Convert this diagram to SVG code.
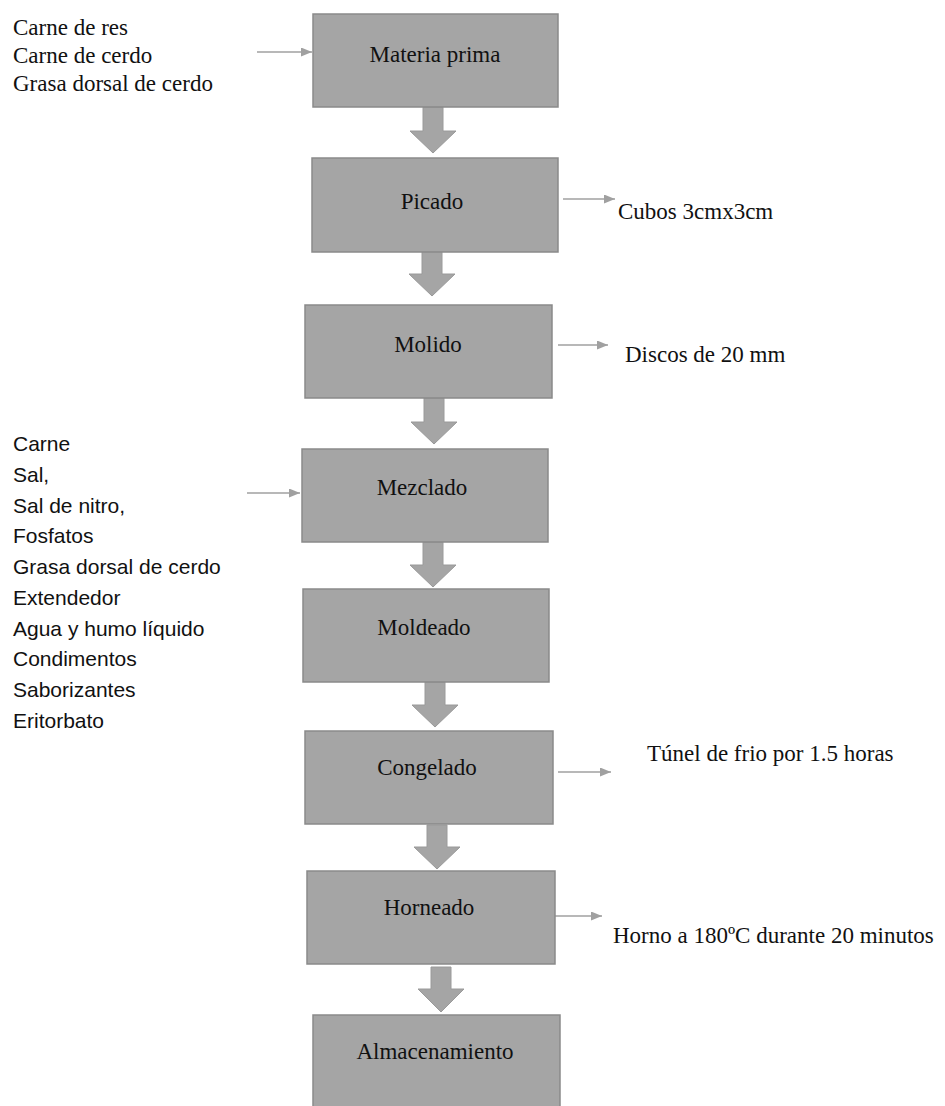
<svg xmlns="http://www.w3.org/2000/svg" width="945" height="1106" viewBox="0 0 945 1106">
<defs>
<style>
.box{fill:#a5a5a5;stroke:#8a8a8a;stroke-width:1.5}
.barrow{fill:#a5a5a5;stroke:#9a9a9a;stroke-width:1}
.conn{stroke:#a0a0a0;stroke-width:1.5;fill:none;marker-end:url(#ah)}
.lbl{font-family:"Liberation Serif","Times New Roman",serif;font-size:23px;fill:#111;text-anchor:middle}
.side{font-family:"Liberation Serif","Times New Roman",serif;font-size:23px;fill:#111}
.list{font-family:"Liberation Sans",Arial,sans-serif;font-size:21px;fill:#111}
</style>
<marker id="ah" markerUnits="userSpaceOnUse" markerWidth="11" markerHeight="9" refX="11" refY="4.5" orient="auto">
<path d="M0,0 L11,4.5 L0,9 Z" fill="#a0a0a0"/>
</marker>
</defs>
<rect width="945" height="1106" fill="#ffffff"/>

<g id="connectors">
<line class="conn" x1="257" y1="52" x2="312" y2="52"/>
<line class="conn" x1="563" y1="199" x2="615" y2="199"/>
<line class="conn" x1="558" y1="345" x2="608" y2="345"/>
<line class="conn" x1="247" y1="493" x2="300" y2="493"/>
<line class="conn" x1="558" y1="772" x2="611" y2="772"/>
<line class="conn" x1="555" y1="916" x2="602" y2="916"/>
<path class="barrow" d="M423,107 H443 V131 H456 L433,153 L410,131 H423 Z"/>
<path class="barrow" d="M422,251 H442 V274 H455 L432,296 L409,274 H422 Z"/>
<path class="barrow" d="M424,398 H444 V422 H457 L434,444 L411,422 H424 Z"/>
<path class="barrow" d="M423,542 H443 V565 H456 L433,587 L410,565 H423 Z"/>
<path class="barrow" d="M425,682 H445 V705 H458 L435,727 L412,705 H425 Z"/>
<path class="barrow" d="M427,825 H447 V847 H460 L437,869 L414,847 H427 Z"/>
<path class="barrow" d="M431,967 H451 V989 H464 L441,1012 L418,989 H431 Z"/>
</g>

<g id="inputs-top">
<text class="side" x="13" y="35">Carne de res</text>
<text class="side" x="13" y="63">Carne de cerdo</text>
<text class="side" x="13" y="91">Grasa dorsal de cerdo</text>
</g>

<g id="node-materia">
<rect class="box" x="313" y="14" width="245" height="93"/>
<text class="lbl" x="435" y="62">Materia prima</text>
</g>

<g id="node-picado">
<rect class="box" x="312" y="158" width="246" height="94"/>
<text class="lbl" x="432" y="209">Picado</text>
</g>
<g id="out-picado"><text class="side" x="618" y="219">Cubos 3cmx3cm</text></g>

<g id="node-molido">
<rect class="box" x="305" y="305" width="247" height="93"/>
<text class="lbl" x="428" y="352">Molido</text>
</g>
<g id="out-molido"><text class="side" x="625" y="362">Discos de 20 mm</text></g>

<g id="inputs-mezclado">
<text class="list" x="13" y="451">Carne</text>
<text class="list" x="13" y="482">Sal,</text>
<text class="list" x="13" y="513">Sal de nitro,</text>
<text class="list" x="13" y="543">Fosfatos</text>
<text class="list" x="13" y="574">Grasa dorsal de cerdo</text>
<text class="list" x="13" y="605">Extendedor</text>
<text class="list" x="13" y="636">Agua y humo líquido</text>
<text class="list" x="13" y="666">Condimentos</text>
<text class="list" x="13" y="697">Saborizantes</text>
<text class="list" x="13" y="728">Eritorbato</text>
</g>

<g id="node-mezclado">
<rect class="box" x="302" y="449" width="246" height="93"/>
<text class="lbl" x="422" y="495">Mezclado</text>
</g>

<g id="node-moldeado">
<rect class="box" x="303" y="589" width="246" height="93"/>
<text class="lbl" x="424" y="635">Moldeado</text>
</g>

<g id="node-congelado">
<rect class="box" x="305" y="731" width="248" height="93"/>
<text class="lbl" x="427" y="775">Congelado</text>
</g>
<g id="out-congelado"><text class="side" x="647" y="761">Túnel de frio por 1.5 horas</text></g>

<g id="node-horneado">
<rect class="box" x="307" y="871" width="248" height="93"/>
<text class="lbl" x="429" y="915">Horneado</text>
</g>
<g id="out-horneado"><text class="side" x="613" y="943">Horno a 180ºC durante 20 minutos</text></g>

<g id="node-almacenamiento">
<rect class="box" x="313" y="1015" width="247" height="100"/>
<text class="lbl" x="435" y="1059">Almacenamiento</text>
</g>
</svg>
